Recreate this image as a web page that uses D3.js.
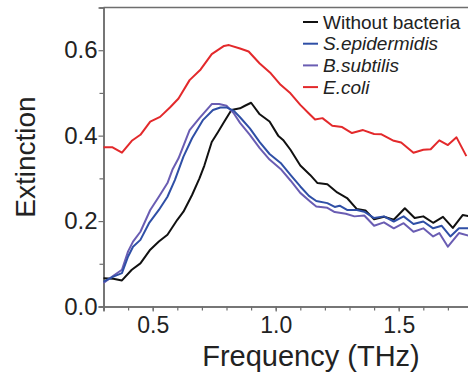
<!DOCTYPE html>
<html>
<head>
    <meta charset="utf-8">
    <style>
        body { margin: 0; background: #fff; }
        svg { display: block; }
        text { font-family: "Liberation Sans", Arial, sans-serif; fill: #222; }
    </style>
    <script src="https://d3js.org/d3.v7.min.js"></script>
</head>
<body>
<script type="application/javascript">
  // values
  var freqNone = [0.30, 0.34, 0.375, 0.415, 0.45, 0.49, 0.525, 0.56, 0.60, 0.625, 0.66, 0.69, 0.71, 0.74, 0.765, 0.79, 0.82, 0.855, 0.875, 0.90, 0.935, 0.975, 1.01, 1.03, 1.06, 1.10, 1.14, 1.17, 1.21, 1.25, 1.29, 1.33, 1.365, 1.40, 1.44, 1.48, 1.525, 1.565, 1.60, 1.64, 1.68, 1.72, 1.76, 1.79];
  var extNone = [0.066, 0.065, 0.061, 0.086, 0.101, 0.133, 0.152, 0.168, 0.203, 0.222, 0.261, 0.300, 0.330, 0.385, 0.408, 0.432, 0.460, 0.464, 0.470, 0.477, 0.450, 0.433, 0.400, 0.390, 0.367, 0.330, 0.308, 0.289, 0.286, 0.267, 0.254, 0.228, 0.225, 0.204, 0.210, 0.203, 0.230, 0.207, 0.211, 0.196, 0.210, 0.184, 0.214, 0.211];

  var freqSepi = [0.30, 0.34, 0.375, 0.40, 0.42, 0.45, 0.485, 0.525, 0.56, 0.59, 0.625, 0.66, 0.705, 0.745, 0.775, 0.80, 0.83, 0.855, 0.895, 0.935, 0.975, 1.02, 1.06, 1.10, 1.135, 1.165, 1.21, 1.24, 1.26, 1.29, 1.33, 1.36, 1.40, 1.44, 1.48, 1.52, 1.56, 1.60, 1.64, 1.675, 1.71, 1.745, 1.79];
  var extSepi = [0.058, 0.070, 0.078, 0.117, 0.140, 0.156, 0.195, 0.226, 0.257, 0.296, 0.351, 0.394, 0.437, 0.460, 0.466, 0.466, 0.458, 0.443, 0.417, 0.385, 0.357, 0.336, 0.308, 0.281, 0.259, 0.247, 0.242, 0.233, 0.236, 0.226, 0.226, 0.222, 0.207, 0.211, 0.199, 0.211, 0.193, 0.199, 0.183, 0.189, 0.164, 0.183, 0.183];

  var freqBsub = [0.30, 0.34, 0.375, 0.40, 0.42, 0.45, 0.49, 0.525, 0.56, 0.58, 0.605, 0.65, 0.69, 0.74, 0.77, 0.80, 0.83, 0.855, 0.895, 0.935, 0.975, 1.02, 1.06, 1.10, 1.14, 1.165, 1.21, 1.24, 1.285, 1.32, 1.36, 1.40, 1.44, 1.48, 1.52, 1.56, 1.60, 1.64, 1.665, 1.70, 1.745, 1.79];
  var extBsub = [0.055, 0.072, 0.086, 0.129, 0.152, 0.175, 0.226, 0.257, 0.289, 0.320, 0.347, 0.413, 0.441, 0.474, 0.474, 0.470, 0.452, 0.430, 0.402, 0.371, 0.344, 0.322, 0.295, 0.266, 0.246, 0.234, 0.231, 0.221, 0.217, 0.211, 0.213, 0.189, 0.197, 0.183, 0.195, 0.175, 0.183, 0.164, 0.172, 0.140, 0.172, 0.165];

  var freqEcoli = [0.30, 0.335, 0.375, 0.415, 0.45, 0.49, 0.53, 0.57, 0.605, 0.65, 0.695, 0.74, 0.79, 0.81, 0.855, 0.89, 0.935, 0.98, 1.02, 1.06, 1.10, 1.135, 1.16, 1.19, 1.23, 1.27, 1.31, 1.355, 1.40, 1.43, 1.48, 1.51, 1.56, 1.60, 1.63, 1.665, 1.70, 1.735, 1.775];
  var extEcoli = [0.373, 0.373, 0.360, 0.388, 0.402, 0.433, 0.444, 0.466, 0.487, 0.530, 0.555, 0.591, 0.610, 0.612, 0.604, 0.597, 0.569, 0.546, 0.519, 0.499, 0.472, 0.452, 0.438, 0.441, 0.423, 0.420, 0.406, 0.413, 0.404, 0.403, 0.388, 0.384, 0.360, 0.367, 0.368, 0.389, 0.378, 0.396, 0.352];

  var seriesNames = ["Without bacteria", "S.epidermidis", "B.subtilis", "E.coli"];
  var seriesColors = ["#111111", "#2f4fa6", "#6a5db3", "#e3292b"];
  var xMajorTicks = [0.5, 1.0, 1.5];
  var yMajorTicks = [0.0, 0.2, 0.4, 0.6];

  var W = 468, H = 372;
  var margin = {top: 7.5, left: 103.5, bottom: 65.5};
  var plotW = 369, plotH = H - margin.top - margin.bottom;

  var svg = d3.select("body").append("svg")
      .attr("width", W).attr("height", H);
  var g = svg.append("g")
      .attr("transform", "translate(" + margin.left + "," + margin.top + ")");

  var x = d3.scaleLinear().domain([0.3, 1.8]).range([0, plotW]);
  var y = d3.scaleLinear().domain([0, 0.7]).range([plotH, 0]);

  var axisColor = "#6e6e6e";

  // minor ticks
  g.append("g")
      .attr("transform", "translate(0," + plotH + ")")
      .call(d3.axisBottom(x).tickValues(d3.range(3, 19).map(function (d) { return d / 10; }))
          .tickSize(4).tickFormat(""));
  g.append("g")
      .call(d3.axisLeft(y).tickValues([0.1, 0.3, 0.5]).tickSize(4).tickFormat(""));

  // major ticks with labels
  g.append("g")
      .attr("class", "xaxis")
      .attr("transform", "translate(0," + plotH + ")")
      .call(d3.axisBottom(x).tickValues(xMajorTicks).tickSize(5).tickPadding(5)
          .tickFormat(d3.format(".1f")));
  g.append("g")
      .attr("class", "yaxis")
      .call(d3.axisLeft(y).tickValues(yMajorTicks).tickSize(5).tickPadding(1)
          .tickFormat(d3.format(".1f")));

  g.selectAll(".domain").attr("stroke", axisColor).attr("stroke-width", 1.5);
  g.selectAll(".tick line").attr("stroke", axisColor).attr("stroke-width", 1.2);
  g.selectAll(".tick text").attr("fill", "#222").style("font-size", "24px")
      .style("font-family", "'Liberation Sans', Arial, sans-serif");
  g.selectAll(".xaxis .tick text").style("font-size", "23px");

  // top frame line
  g.append("line")
      .attr("x1", 0).attr("x2", plotW).attr("y1", 0).attr("y2", 0)
      .attr("stroke", axisColor).attr("stroke-width", 1.5);

  var series = [
    {f: freqNone, v: extNone},
    {f: freqSepi, v: extSepi},
    {f: freqBsub, v: extBsub},
    {f: freqEcoli, v: extEcoli}
  ];

  var line = d3.line()
      .x(function (d) { return x(d[0]); })
      .y(function (d) { return y(d[1]); });

  // draw red first so the others sit on top, like the original
  [3, 0, 2, 1].forEach(function (i) {
    var pts = series[i].f.map(function (f, j) { return [f, series[i].v[j]]; });
    g.append("path")
        .datum(pts)
        .attr("fill", "none")
        .attr("stroke", seriesColors[i])
        .attr("stroke-width", 2)
        .attr("stroke-linejoin", "round")
        .attr("d", line);
  });

  // legend
  var legend = svg.append("g").attr("transform", "translate(303,22)");
  seriesNames.forEach(function (name, i) {
    var row = legend.append("g").attr("transform", "translate(0," + (i * 21.7) + ")");
    row.append("line")
        .attr("x1", 0).attr("x2", 15).attr("y1", 0).attr("y2", 0)
        .attr("stroke", seriesColors[i]).attr("stroke-width", 2);
    row.append("text")
        .attr("x", 20).attr("dy", "0.35em")
        .style("font-size", "19px")
        .style("font-style", i === 0 ? "normal" : "italic")
        .text(name);
  });

  // axis titles
  svg.append("text")
      .attr("transform", "translate(35,157) rotate(-90)")
      .attr("text-anchor", "middle")
      .style("font-size", "28px")
      .text("Extinction");
  svg.append("text")
      .attr("x", 311).attr("y", 365.7)
      .attr("text-anchor", "middle")
      .style("font-size", "29px")
      .text("Frequency (THz)");
</script>
</body>
</html>
